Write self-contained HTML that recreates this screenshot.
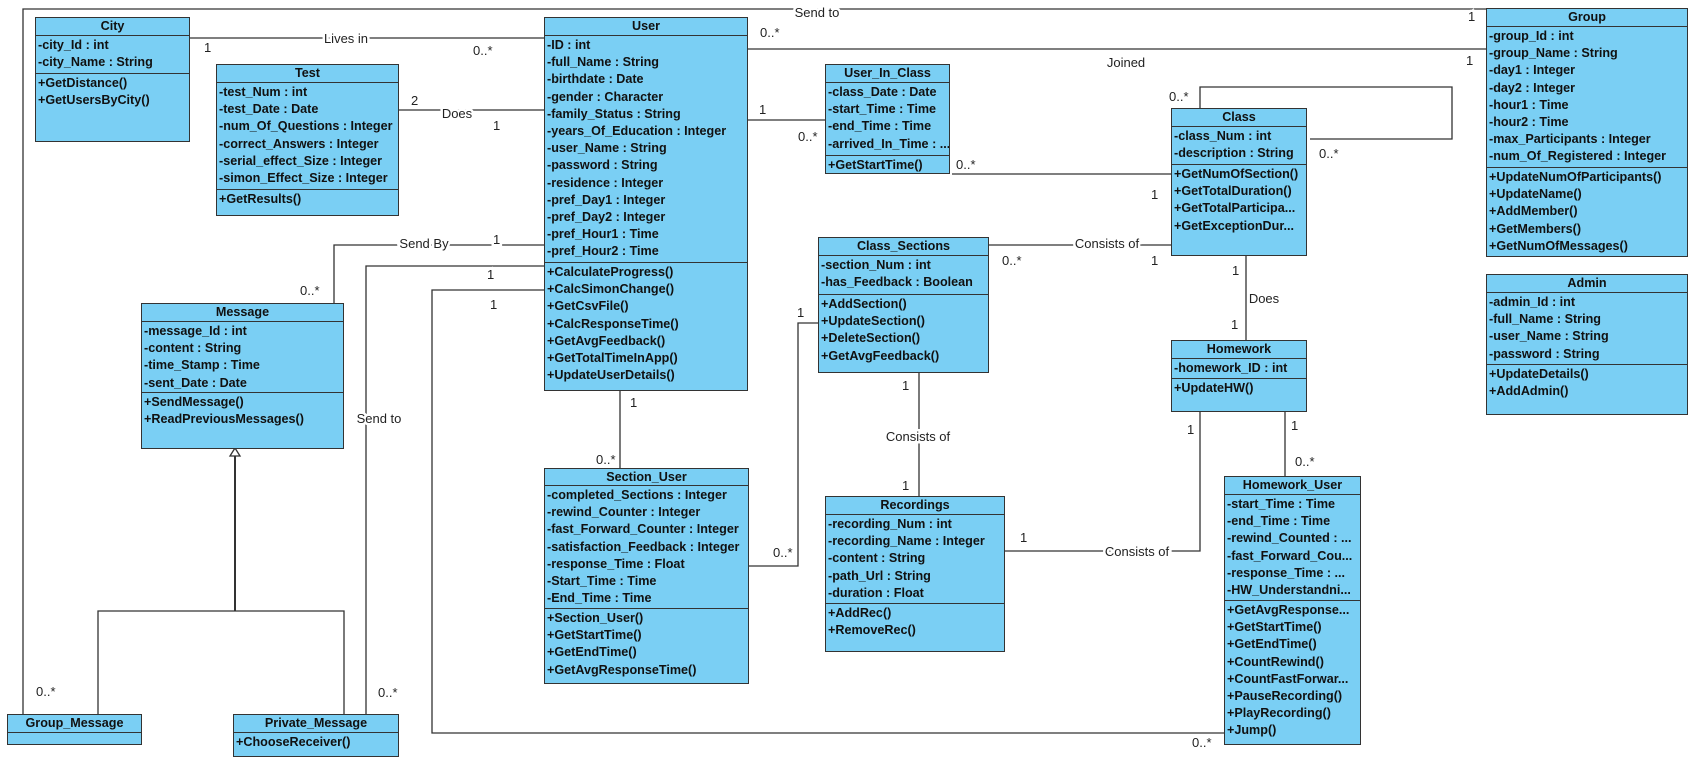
<!DOCTYPE html>
<html><head><meta charset="utf-8"><style>
body{margin:0;width:1701px;height:774px;background:#fff;position:relative;overflow:hidden;font-family:"Liberation Sans",Arial,sans-serif}
.c{position:absolute;background:#7acff4;border:1px solid #333;box-sizing:border-box;font-size:12.6px;font-weight:bold;color:#111;overflow:hidden}
.h{text-align:center;border-bottom:1px solid #333;box-sizing:border-box;line-height:16px}
.a{border-bottom:1px solid #333;box-sizing:border-box;padding:1px 0 0 2px;line-height:17.2px;white-space:nowrap}
.o{padding:1px 0 0 2px;line-height:17.2px;white-space:nowrap}
svg{position:absolute;left:0;top:0}
svg text{font-family:"Liberation Sans",Arial,sans-serif;font-size:13px;fill:#222;stroke:#fff;stroke-width:5px;paint-order:stroke}
</style></head><body>
<svg width="1701" height="774">
<g stroke="#333" stroke-width="1.3" fill="none">
<polyline points="23,714 23,9 1486,9"/>
<line x1="747" y1="49" x2="1486" y2="49"/>
<line x1="189" y1="38" x2="544" y2="38"/>
<line x1="398" y1="110" x2="544" y2="110"/>
<polyline points="544,245 334,245 334,303"/>
<polyline points="544,266 366,266 366,714"/>
<polyline points="544,290 432,290 432,733 1224,733"/>
<line x1="747" y1="120" x2="825" y2="120"/>
<line x1="952" y1="174" x2="1171" y2="174"/>
<line x1="988" y1="245" x2="1171" y2="245"/>
<polyline points="1200,108 1200,87 1452,87 1452,139 1310,139"/>
<line x1="1246" y1="255" x2="1246" y2="340"/>
<line x1="620" y1="390" x2="620" y2="468"/>
<polyline points="748,566 798,566 798,323 818,323"/>
<line x1="919" y1="372" x2="919" y2="496"/>
<polyline points="1004,551 1200,551 1200,411"/>
<line x1="1285" y1="411" x2="1285" y2="476"/>
<polyline points="98,714 98,611 344,611 344,714"/>
<line x1="235" y1="611" x2="235" y2="455" stroke-width="2"/>
<polygon points="235,448 230,456 240,456" fill="#fff"/>
</g>
<text x="346" y="43" text-anchor="middle">Lives in</text>
<text x="204" y="52">1</text><text x="473" y="55">0..*</text>
<text x="411" y="105">2</text><text x="457" y="118" text-anchor="middle">Does</text><text x="493" y="130">1</text>
<text x="424" y="248" text-anchor="middle">Send By</text><text x="493" y="244">1</text><text x="300" y="295">0..*</text>
<text x="487" y="279">1</text><text x="490" y="309">1</text>
<text x="379" y="423" text-anchor="middle">Send to</text><text x="378" y="697">0..*</text><text x="36" y="696">0..*</text>
<text x="817" y="17" text-anchor="middle">Send to</text><text x="760" y="37">0..*</text><text x="1468" y="21">1</text>
<text x="1466" y="65">1</text><text x="1126" y="67" text-anchor="middle" stroke="none">Joined</text>
<text x="759" y="114">1</text><text x="798" y="141">0..*</text>
<text x="956" y="169">0..*</text><text x="1151" y="199">1</text>
<text x="1107" y="248" text-anchor="middle">Consists of</text><text x="1002" y="265">0..*</text><text x="1151" y="265">1</text>
<text x="1169" y="101">0..*</text><text x="1319" y="158">0..*</text>
<text x="1232" y="275">1</text><text x="1264" y="303" text-anchor="middle">Does</text><text x="1231" y="329">1</text>
<text x="630" y="407">1</text><text x="596" y="464">0..*</text>
<text x="773" y="557">0..*</text><text x="797" y="317">1</text>
<text x="902" y="390">1</text><text x="918" y="441" text-anchor="middle">Consists of</text><text x="902" y="490">1</text>
<text x="1020" y="542">1</text><text x="1137" y="556" text-anchor="middle">Consists of</text><text x="1187" y="434">1</text>
<text x="1291" y="430">1</text><text x="1295" y="466">0..*</text>
<text x="1192" y="747">0..*</text>
</svg>

<div class="c" style="left:35px;top:17px;width:155px;height:125px"><div class="h" style="height:18px">City</div><div class="a" style="height:38px">-city_Id : int<br>-city_Name : String</div><div class="o">+GetDistance()<br>+GetUsersByCity()</div></div>

<div class="c" style="left:216px;top:64px;width:183px;height:152px"><div class="h" style="height:18px">Test</div><div class="a" style="height:107px">-test_Num : int<br>-test_Date : Date<br>-num_Of_Questions : Integer<br>-correct_Answers : Integer<br>-serial_effect_Size : Integer<br>-simon_Effect_Size : Integer</div><div class="o">+GetResults()</div></div>

<div class="c" style="left:544px;top:17px;width:204px;height:374px"><div class="h" style="height:18px">User</div><div class="a" style="height:227px">-ID : int<br>-full_Name : String<br>-birthdate : Date<br>-gender : Character<br>-family_Status : String<br>-years_Of_Education : Integer<br>-user_Name : String<br>-password : String<br>-residence : Integer<br>-pref_Day1 : Integer<br>-pref_Day2 : Integer<br>-pref_Hour1 : Time<br>-pref_Hour2 : Time</div><div class="o">+CalculateProgress()<br>+CalcSimonChange()<br>+GetCsvFile()<br>+CalcResponseTime()<br>+GetAvgFeedback()<br>+GetTotalTimeInApp()<br>+UpdateUserDetails()</div></div>

<div class="c" style="left:825px;top:64px;width:125px;height:110px"><div class="h" style="height:18px">User_In_Class</div><div class="a" style="height:73px">-class_Date : Date<br>-start_Time : Time<br>-end_Time : Time<br>-arrived_In_Time : ...</div><div class="o">+GetStartTime()</div></div>

<div class="c" style="left:818px;top:237px;width:171px;height:136px"><div class="h" style="height:18px">Class_Sections</div><div class="a" style="height:39px">-section_Num : int<br>-has_Feedback : Boolean</div><div class="o">+AddSection()<br>+UpdateSection()<br>+DeleteSection()<br>+GetAvgFeedback()</div></div>

<div class="c" style="left:141px;top:303px;width:203px;height:146px"><div class="h" style="height:18px">Message</div><div class="a" style="height:71px">-message_Id : int<br>-content : String<br>-time_Stamp : Time<br>-sent_Date : Date</div><div class="o">+SendMessage()<br>+ReadPreviousMessages()</div></div>

<div class="c" style="left:7px;top:714px;width:135px;height:31px"><div class="h" style="height:18px">Group_Message</div></div>

<div class="c" style="left:233px;top:714px;width:166px;height:43px"><div class="h" style="height:18px">Private_Message</div><div class="o">+ChooseReceiver()</div></div>

<div class="c" style="left:544px;top:468px;width:205px;height:216px"><div class="h" style="height:17px">Section_User</div><div class="a" style="height:123px">-completed_Sections : Integer<br>-rewind_Counter : Integer<br>-fast_Forward_Counter : Integer<br>-satisfaction_Feedback : Integer<br>-response_Time : Float<br>-Start_Time : Time<br>-End_Time : Time</div><div class="o">+Section_User()<br>+GetStartTime()<br>+GetEndTime()<br>+GetAvgResponseTime()</div></div>

<div class="c" style="left:825px;top:496px;width:180px;height:156px"><div class="h" style="height:18px">Recordings</div><div class="a" style="height:89px">-recording_Num : int<br>-recording_Name : Integer<br>-content : String<br>-path_Url : String<br>-duration : Float</div><div class="o">+AddRec()<br>+RemoveRec()</div></div>

<div class="c" style="left:1171px;top:108px;width:136px;height:148px"><div class="h" style="height:18px">Class</div><div class="a" style="height:38px">-class_Num : int<br>-description : String</div><div class="o">+GetNumOfSection()<br>+GetTotalDuration()<br>+GetTotalParticipa...<br>+GetExceptionDur...</div></div>

<div class="c" style="left:1171px;top:340px;width:136px;height:72px"><div class="h" style="height:18px">Homework</div><div class="a" style="height:20px">-homework_ID : int</div><div class="o">+UpdateHW()</div></div>

<div class="c" style="left:1224px;top:476px;width:137px;height:269px"><div class="h" style="height:18px">Homework_User</div><div class="a" style="height:106px">-start_Time : Time<br>-end_Time : Time<br>-rewind_Counted : ...<br>-fast_Forward_Cou...<br>-response_Time : ...<br>-HW_Understandni...</div><div class="o">+GetAvgResponse...<br>+GetStartTime()<br>+GetEndTime()<br>+CountRewind()<br>+CountFastForwar...<br>+PauseRecording()<br>+PlayRecording()<br>+Jump()</div></div>

<div class="c" style="left:1486px;top:8px;width:202px;height:249px"><div class="h" style="height:18px">Group</div><div class="a" style="height:141px">-group_Id : int<br>-group_Name : String<br>-day1 : Integer<br>-day2 : Integer<br>-hour1 : Time<br>-hour2 : Time<br>-max_Participants : Integer<br>-num_Of_Registered : Integer</div><div class="o">+UpdateNumOfParticipants()<br>+UpdateName()<br>+AddMember()<br>+GetMembers()<br>+GetNumOfMessages()</div></div>

<div class="c" style="left:1486px;top:274px;width:202px;height:141px"><div class="h" style="height:18px">Admin</div><div class="a" style="height:72px">-admin_Id : int<br>-full_Name : String<br>-user_Name : String<br>-password : String</div><div class="o">+UpdateDetails()<br>+AddAdmin()</div></div>
</body></html>
